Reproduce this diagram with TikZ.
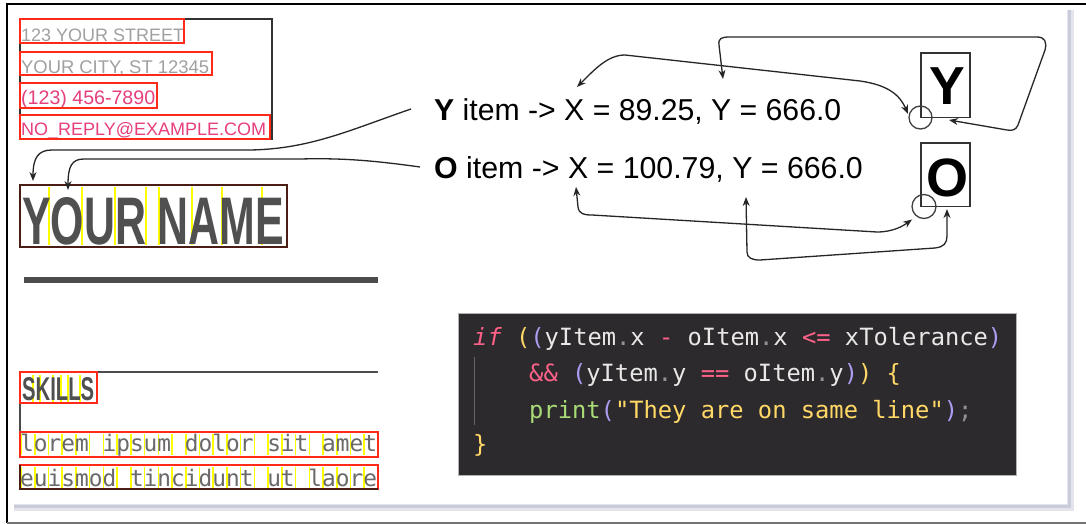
\documentclass[tikz,border=0pt]{standalone}
\usepackage{fontspec}
\setmainfont{Liberation Sans}
\newfontfamily\monof{DejaVu Sans Mono}
\usetikzlibrary{arrows.meta}
\definecolor{addrgray}{HTML}{A0A0A0}
\definecolor{addrpink}{HTML}{E63F7E}
\definecolor{redbox}{HTML}{FF2A1A}
\definecolor{darkbrown}{HTML}{4A1E14}
\definecolor{namegray}{HTML}{505050}
\definecolor{yel}{HTML}{FFFF00}
\definecolor{codebg}{HTML}{2D2A2E}
\definecolor{cpink}{HTML}{FF6188}
\definecolor{cgreen}{HTML}{A9DC76}
\definecolor{cyel}{HTML}{FFD866}
\definecolor{cpur}{HTML}{AB9DF2}
\definecolor{cwhite}{HTML}{E8E8E6}
\definecolor{cgray}{HTML}{939293}
\definecolor{shadowc}{HTML}{C9CCDA}
\definecolor{loremgray}{HTML}{6A6A6A}
\begin{document}
\begin{tikzpicture}[x=1pt,y=-1pt,
  redframe/.style={draw=redbox,line width=2pt},
  yline/.style={draw=yel,line width=1.6pt},
  conn/.style={draw=black!85,line width=1.3pt},
  dbl/.style={conn,{Stealth[length=9pt,width=7pt]}-{Stealth[length=9pt,width=7pt]}},
  sgl/.style={conn,-{Stealth[length=9pt,width=7pt]}},
  addr/.style={anchor=base west,inner sep=0pt},
  code/.style={anchor=base west,inner sep=0pt,font=\monof\fontsize{23.75}{26}\selectfont},
  lorem/.style={anchor=base west,inner sep=0pt,text=loremgray,font=\monof\fontsize{22.8}{26}\selectfont},
  bigY/.style={inner sep=0pt,font=\fontsize{30.2}{34}\selectfont},
  bigO/.style={inner sep=0pt,font=\fontsize{30.3}{34}\selectfont},
  letterbox/.style={draw=black!80,line width=1.3pt},
  ring/.style={draw=black!75,line width=1.3pt}]
\useasboundingbox (0,0) rectangle (1086,524);
\fill[white] (0,0) rectangle (1086,524);
% page shadow
\draw[shadowc!50,line width=7pt] (1070,10) -- (1070,507) -- (14,507);
\draw[shadowc,line width=3pt] (1069,10) -- (1069,506) -- (14,506);
% outer frame
\draw[black,line width=1.5pt] (1086,4) -- (7,4) -- (7,523);
\draw[black!55,line width=1.5pt] (7,523) -- (1086,523);

% address block
\node[addr,text=addrgray,font=\fontsize{18}{20}\selectfont] (a1) at (21,41.5) {123 YOUR STREET};
\node[addr,text=addrgray,font=\fontsize{18.4}{20}\selectfont] (a2) at (21,74) {YOUR CITY, ST 12345};
\node[addr,text=addrpink,font=\fontsize{19.6}{20}\selectfont] (a3) at (21,104.5) {(123) 456-7890};
\node[addr,text=addrpink,font=\fontsize{18}{20}\selectfont] (a4) at (21,135.5) {NO\_REPLY@EXAMPLE.COM};
\draw[black!80,line width=2pt] (20,19) rectangle (272,139);
\draw[redframe] (20,19) rectangle (184,43);
\draw[redframe] (20,52) rectangle (212,75);
\draw[redframe] (20,83) rectangle (157,108);
\draw[redframe] (20,115) rectangle (270,139);

% YOUR NAME
\foreach \xx in {49,82,115,146,159,192,222,262} \draw[yline] (\xx,187) -- (\xx,245);
\node[anchor=south west,inner sep=0pt,text=namegray] (name) at (22,245) {\resizebox{262pt}{47pt}{\bfseries YOUR NAME}};
\draw[darkbrown,line width=2.5pt] (20,185) rectangle (287,247);

% thick rule
\draw[black!70,line width=6pt] (24,280) -- (378,280);

% skills section
\draw[black!70,line width=2pt] (378,372) -- (20,372) -- (20,432);
\foreach \xx in {33,40,53,61,68,80} \draw[yline] (\xx,375) -- (\xx,402);
\node[anchor=south west,inner sep=0pt,text=namegray] (skills) at (22,401) {\resizebox{72pt}{23pt}{\bfseries SKILLS}};
\draw[redframe] (20,372) rectangle (97,403);
\begin{scope}
\clip (19,430) rectangle (378,492);
\foreach \i in {0,...,26} {
  \draw[yline] ({21+13.73*\i},434) -- ++(0,21);
  \draw[yline] ({21+13.73*\i},467) -- ++(0,21);
}
\node[lorem] (l1) at (20,451.5) {lorem ipsum dolor sit amet};
\node[lorem] (l2) at (20,486) {euismod tincidunt ut laoreet};
\end{scope}
\draw[redframe] (20,432) rectangle (378,457);
\draw[redframe] (20,465) rectangle (378,489);
\draw[darkbrown,line width=2pt] (20,465) -- (20,489) -- (378,489);

% item texts
\node[bigY,anchor=base west] (yitem) at (434,121) {\textbf{Y} item -> X = 89.25, Y = 666.0};
\node[bigO,anchor=base west] (oitem) at (434,178.5) {\textbf{O} item -> X = 100.79, Y = 666.0};

% letter boxes
\draw[letterbox] (921,53) rectangle (970,117.5);
\node[inner sep=0pt,anchor=base,font=\fontsize{53.5}{56}\selectfont\bfseries] (ybig) at (947,105) {Y};
\draw[letterbox] (921,143) rectangle (970,206.5);
\node[inner sep=0pt,anchor=base,font=\fontsize{54}{56}\selectfont\bfseries] (obig) at (947,196) {O};
\node[ring,circle,minimum size=23pt,inner sep=0pt] (yc) at (920.5,117.5) {};
\node[ring,circle,minimum size=24pt,inner sep=0pt] (oc) at (924,206.5) {};

% connector endpoints
\coordinate (yX) at (577,87);
\coordinate (yEq) at (723,79);
\coordinate (ycIn) at (908,114);
\coordinate (ybR) at (949,120);
\coordinate (oX) at (576,187);
\coordinate (oY) at (746,197);
\coordinate (ocIn) at (912,219.5);
\coordinate (obB) at (947,209);
\coordinate (yS) at (411,109);
\coordinate (oS) at (420,167);
\coordinate (n1) at (33,181);
\coordinate (n2) at (68,190);

% right-side connectors
\draw[dbl] (yX) .. controls (595,69) and (608,55) .. (625,55) -- (860,81) .. controls (888,85) and (900,95) .. (ycIn);
\draw[dbl] (yEq) -- (719,45) .. controls (718,38) and (722,37) .. (730,37) -- (1037,37) .. controls (1045,37) and (1047,42) .. (1045,50) -- (1018,125) .. controls (1016,130) and (1012,131) .. (1007,130) -- (ybR);
\draw[dbl] (oX) -- (578,207) .. controls (579,214) and (584,215) .. (592,215) -- (877,232) .. controls (893,232) and (903,226) .. (ocIn);
\draw[dbl] (oY) -- (747,252) .. controls (747,258) and (752,260) .. (760,260) -- (935,248) .. controls (944,247) and (947,243) .. (947,236) -- (obB);

% left connectors
\draw[sgl] (yS) .. controls (350,130) and (310,149) .. (250,150) -- (52,150) .. controls (38,150) and (33,158) .. (n1);
\draw[sgl] (oS) .. controls (370,160) and (340,158) .. (300,159) -- (84,159) .. controls (72,159) and (68,166) .. (n2);

% code box
\draw[fill=codebg,draw=black!30,line width=0.8pt] (458,313) rectangle (1016,475);
\draw[black!60,line width=0.8pt] (474,357) -- (474,425);
\node[code] (c1) at (473,345) {{\color{cpink}\itshape if} {\color{cyel}(}{\color{cpur}(}{\color{cwhite}yItem}{\color{cgray}.}{\color{cwhite}x} {\color{cpink}-} {\color{cwhite}oItem}{\color{cgray}.}{\color{cwhite}x} {\color{cpink}<=} {\color{cwhite}xTolerance}{\color{cpur})}};
\node[code] (c2) at (529,381.5) {{\color{cpink}\&\&} {\color{cpur}(}{\color{cwhite}yItem}{\color{cgray}.}{\color{cwhite}y} {\color{cpink}==} {\color{cwhite}oItem}{\color{cgray}.}{\color{cwhite}y}{\color{cpur})}{\color{cyel})} {\color{cyel}\{}};
\node[code] (c3) at (529,418) {{\color{cgreen}print}{\color{cpur}(}{\color{cyel}"They are on same line"}{\color{cpur})}{\color{cgray};}};
\node[code] (c4) at (473,452) {{\color{cyel}\}}};
\end{tikzpicture}
\end{document}
